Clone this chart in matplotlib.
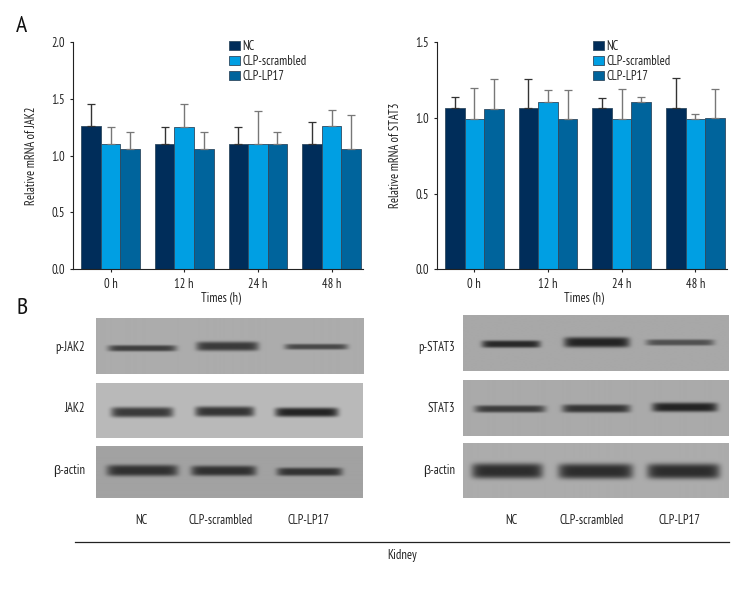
import numpy as np
import matplotlib
matplotlib.use("Agg")
import matplotlib.pyplot as plt

plt.rcParams['font.family'] = ['PT Sans Narrow', 'Liberation Sans', 'DejaVu Sans']

times = ["0 h", "12 h", "24 h", "48 h"]
groups = ["NC", "CLP-scrambled", "CLP-LP17"]
colors = ["#002d5a", "#009fe3", "#00649c"]
err_colors = ["#333333", "#777777", "#777777"]

jak2_vals = [[1.26, 1.10, 1.10, 1.10],
             [1.105, 1.255, 1.10, 1.26],
             [1.06, 1.06, 1.10, 1.055]]
jak2_tops = [[1.455, 1.25, 1.25, 1.293],
             [1.25, 1.455, 1.39, 1.40],
             [1.205, 1.205, 1.205, 1.355]]
stat3_vals = [[1.066, 1.064, 1.064, 1.064],
              [0.989, 1.103, 0.991, 0.991],
              [1.059, 0.993, 1.105, 0.996]]
stat3_tops = [[1.134, 1.259, 1.13, 1.264],
              [1.198, 1.18, 1.191, 1.024],
              [1.255, 1.185, 1.136, 1.189]]

W, H = 756, 600
txt = "#222222"
fs = 9
fig = plt.figure(figsize=(W / 100, H / 100), dpi=100)


def make_axes(left, right, top, bottom):
    return fig.add_axes([left / W, 1 - bottom / H, (right - left) / W, (bottom - top) / H])


def bar_panel(ax, vals, tops, ymax, yticks, ylabel, xlim, leg_anchor, ylab_x, xlab_x):
    w = 0.265
    for i, name in enumerate(groups):
        x = np.arange(len(times)) + (i - 1) * w
        up = np.array(tops[i]) - np.array(vals[i])
        ax.bar(x, vals[i], w, color=colors[i], edgecolor="#2f4a60", linewidth=0.6, label=name,
               yerr=[np.zeros(len(up)), up], ecolor=err_colors[i],
               error_kw={"elinewidth": 1.0, "capsize": 3.0, "capthick": 0.9})
    ax.set_xlim(*xlim)
    ax.set_ylim(0, ymax)
    ax.set_yticks(yticks)
    ax.set_yticklabels(["%.1f" % t for t in yticks])
    ax.set_xticks(range(len(times)))
    ax.set_xticklabels(times)
    ax.tick_params(labelsize=fs, length=2.5, width=0.8, color=txt, labelcolor=txt, pad=3)
    ax.tick_params(axis="x", pad=4)
    ax.set_xlabel("Times (h)", fontsize=fs, color=txt)
    ax.set_ylabel(ylabel, fontsize=fs, color=txt)
    ax.xaxis.set_label_coords(xlab_x, -0.098)
    ax.yaxis.set_label_coords(ylab_x, 0.5)
    ax.spines["top"].set_visible(False)
    ax.spines["right"].set_visible(False)
    ax.spines["left"].set_color(txt)
    ax.spines["bottom"].set_color(txt)
    ax.legend(loc="upper left", bbox_to_anchor=leg_anchor, frameon=False, fontsize=fs,
              handlelength=0.85, handleheight=0.8, handletextpad=0.22, labelspacing=0.15,
              borderpad=0, borderaxespad=0, labelcolor=txt)


ax1 = make_axes(72.5, 362.7, 42, 269.3)
bar_panel(ax1, jak2_vals, jak2_tops, 2.0, [0, 0.5, 1.0, 1.5, 2.0], "Relative mRNA of JAK2",
          (-0.516, 3.422), (0.54, 1.009), -0.119, 0.512)
ax2 = make_axes(436.7, 727, 42, 269.3)
bar_panel(ax2, stat3_vals, stat3_tops, 1.5, [0, 0.5, 1.0, 1.5], "Relative mRNA of STAT3",
          (-0.511, 3.43), (0.538, 1.009), -0.12, 0.508)

# overlay in pixel coordinates for the blots and loose text
ov = fig.add_axes([0, 0, 1, 1])
ov.axis("off")
ov.patch.set_alpha(0)


def blot(x0, x1, y0, y1, grey, bands):
    xs = np.arange(x0, x1, 0.5)
    ys = np.arange(y0, y1, 0.5)
    xx, yy = np.meshgrid(xs, ys)
    img = np.full(xx.shape, float(grey))
    for bx0, bx1, by, bh, dark in bands:
        cx = (bx0 + bx1) / 2
        half = (bx1 - bx0) / 2
        fx = np.exp(-np.abs((xx - cx) / half) ** 10)
        fy = np.exp(-np.abs((yy - by) / (bh / 2 + 0.6)) ** 3.5)
        img = img - (grey - dark) * fx * fy
    ov.imshow(img, extent=(x0, x1, y1, y0), cmap="gray", vmin=0, vmax=255, aspect="auto",
              interpolation="bilinear", zorder=1)


# x0, x1, y0, y1, background grey, bands (start, end, y, height, darkness)
left_blots = [
    (95.7, 363, 318, 373.7, 172, [(107.7, 175.7, 348, 5, 62), (195.7, 257.7, 346, 8, 58), (284, 346.7, 346.5, 4.5, 72)]),
    (96, 363, 382.7, 437.7, 186, [(111, 173, 411.7, 9, 58), (195, 254, 411, 9, 52), (275, 338, 411.7, 8, 35)]),
    (96, 363, 446.7, 498, 162, [(106.7, 177.7, 470.7, 10, 48), (191, 256, 471, 9, 48), (276.7, 342, 472, 7, 50)]),
]
right_blots = [
    (463, 728.3, 315.7, 371, 168, [(481.7, 540, 344.3, 6, 40), (563.7, 629, 342.5, 9, 35), (645.7, 713.3, 342.7, 5, 80)]),
    (463, 728.3, 380, 435.7, 170, [(474.7, 545, 408.7, 6, 60), (562, 629.7, 408.3, 7, 52), (651.7, 716.7, 407, 8, 35)]),
    (463, 728.3, 443, 498, 172, [(471.7, 542.3, 470.7, 14, 45), (558, 632.3, 471, 14, 45), (646.7, 719, 471, 14, 45)]),
]
for b in left_blots + right_blots:
    blot(*b)
ov.set_xlim(0, W)
ov.set_ylim(H, 0)

row_labels = [(85, 347.7, "p-JAK2"), (85, 408.7, "JAK2"), (85, 470.7, "β-actin"),
              (455.3, 347.7, "p-STAT3"), (455.3, 408.7, "STAT3"), (455.3, 470.7, "β-actin")]
for x, y, s in row_labels:
    ov.text(x, y, s, ha="right", va="center", fontsize=fs, color=txt)
for cx, name in zip([141, 221, 308.3], groups):
    ov.text(cx, 520.3, name, ha="center", va="center", fontsize=fs, color=txt)
for cx, name in zip([511.7, 591.7, 679], groups):
    ov.text(cx, 520.3, name, ha="center", va="center", fontsize=fs, color=txt)
ov.plot([74.5, 729], [542.3, 542.3], color=txt, lw=0.9)
ov.text(401.7, 555, "Kidney", ha="center", va="center", fontsize=fs, color=txt)
ov.text(16, 26, "A", ha="left", va="center", fontsize=17, color="#111111")
ov.text(16, 308, "B", ha="left", va="center", fontsize=17, color="#111111")

fig.savefig("out.png", dpi=100)
